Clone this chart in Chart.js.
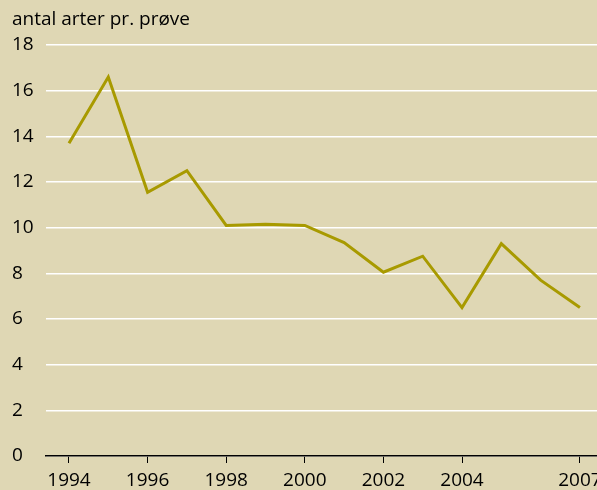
<!DOCTYPE html>
<html>
<head>
<meta charset="utf-8">
<script src="https://cdn.jsdelivr.net/npm/chart.js@4"></script>
<style>
  html, body { margin: 0; padding: 0; background: #dfd7b4; overflow: hidden; }
  canvas { display: block; background: #dfd7b4; }
</style>
</head>
<body>
<canvas id="chartArter" width="620" height="490"></canvas>
<script>
// antal arter pr. prøve, 1994-2007
const years = [1994, 1995, 1996, 1997, 1998, 1999, 2000, 2001, 2002, 2003, 2004, 2005, 2006, 2007];
const arter = [13.7, 16.6, 11.55, 12.5, 10.1, 10.15, 10.1, 9.35, 8.05, 8.75, 6.5, 9.3, 7.7, 6.5];
const xTicks = [1994, 1996, 1998, 2000, 2002, 2004, 2007];
const yTitle = 'antal arter pr. prøve';

const fnt = "'Open Sans', 'DejaVu Sans', sans-serif";

new Chart(document.getElementById('chartArter'), {
    type: 'line',
    data: {
        datasets: [{
            data: years.map((y, i) => ({ x: y, y: arter[i] })),
            borderColor: '#a89a00',
            borderWidth: 3,
            pointRadius: 0,
            tension: 0,
            fill: false
        }]
    },
    options: {
        responsive: false,
        animation: false,
        layout: { padding: { left: 12, right: 0, top: 0, bottom: 0 } },
        plugins: {
            legend: { display: false },
            tooltip: { enabled: false },
            title: {
                display: true,
                text: yTitle,
                align: 'start',
                color: '#000',
                font: { family: fnt, size: 19, weight: 'normal', lineHeight: 1.2 },
                padding: { top: 8, bottom: 14.2 }
            }
        },
        scales: {
            x: {
                type: 'linear',
                min: 1993.415,
                max: 2008.02,
                afterBuildTicks: (scale) => { scale.ticks = xTicks.map(v => ({ value: v })); },
                afterFit: (scale) => { scale.height = 34; },
                grid: { drawOnChartArea: false, drawTicks: true, tickLength: 7, color: '#000', lineWidth: 1 },
                border: { color: '#000', width: 1.5 },
                ticks: {
                    color: '#000',
                    padding: 8.5,
                    maxRotation: 0,
                    autoSkip: false,
                    font: { family: fnt, size: 19, lineHeight: 1 },
                    callback: (v) => String(v)
                }
            },
            y: {
                min: 0,
                max: 18,
                afterFit: (scale) => { scale.width = 34; },
                grid: { color: '#ffffff', lineWidth: 1.5, drawTicks: false },
                border: { display: false },
                ticks: {
                    stepSize: 2,
                    color: '#000',
                    crossAlign: 'far',
                    padding: 0,
                    font: { family: fnt, size: 19, lineHeight: 1 }
                }
            }
        }
    }
});
</script>
</body>
</html>
